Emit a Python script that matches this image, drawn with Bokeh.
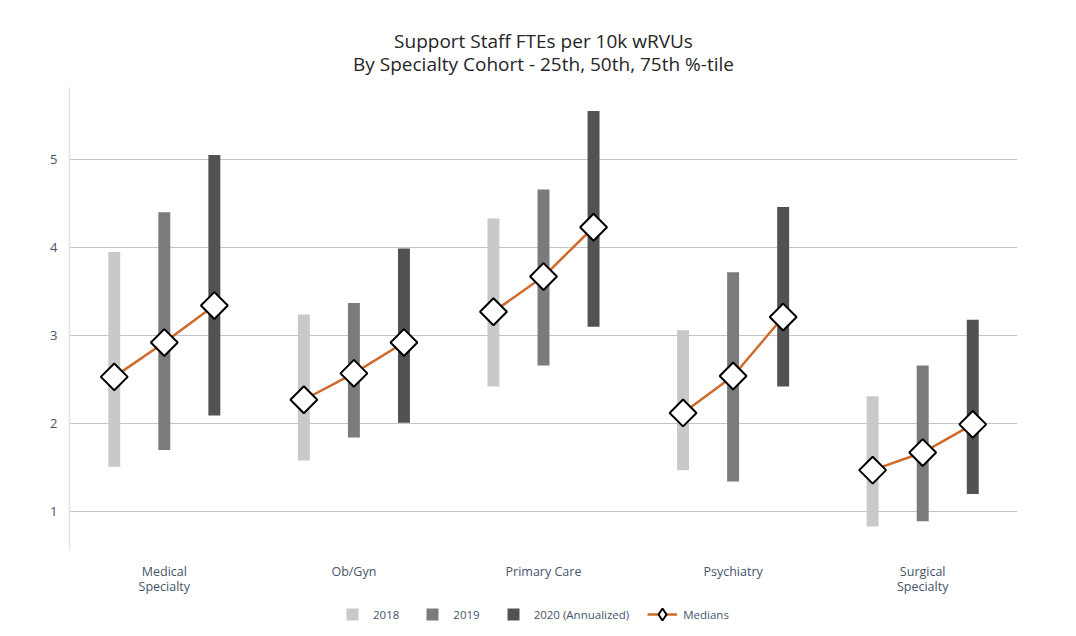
import numpy as np
from bokeh.plotting import figure
from bokeh.layouts import column
from bokeh.models import Range1d, FixedTicker, Legend, LegendItem, LinearAxis
from bokeh.embed import file_html
from bokeh.resources import INLINE

# ---- data ----
categories = ["Medical\nSpecialty", "Ob/Gyn", "Primary Care", "Psychiatry", "Surgical\nSpecialty"]
years = ["2018", "2019", "2020 (Annualized)"]

p25_2018 = [1.51, 1.58, 2.42, 1.47, 0.83]
p50_2018 = [2.53, 2.27, 3.27, 2.12, 1.47]
p75_2018 = [3.95, 3.24, 4.33, 3.06, 2.31]

p25_2019 = [1.70, 1.84, 2.66, 1.34, 0.89]
p50_2019 = [2.92, 2.57, 3.67, 2.54, 1.67]
p75_2019 = [4.40, 3.37, 4.66, 3.72, 2.66]

p25_2020 = [2.09, 2.01, 3.10, 2.42, 1.20]
p50_2020 = [3.34, 2.92, 4.23, 3.21, 1.99]
p75_2020 = [5.05, 3.99, 5.55, 4.46, 3.18]

y_ticks = [1, 2, 3, 4, 5]
title_lines = ["Support Staff FTEs per 10k wRVUs",
               "By Specialty Cohort - 25th, 50th, 75th %-tile"]

# ---- styling ----
FONT = "Open Sans"
LABEL_COLOR = "#44546A"
TITLE_COLOR = "#262626"
bar_colors = ["#C9C9C9", "#7B7B7B", "#525252"]
median_color = "#CF6A2B"
offsets = [-0.264, 0.0, 0.264]
bar_width = 0.063

p = figure(frame_width=948, frame_height=463, output_backend="svg", toolbar_location=None,
           title=None, x_range=Range1d(-0.5, 4.5), y_range=Range1d(0.557, 5.818),
           min_border_left=69, min_border_right=54, min_border_top=87, min_border_bottom=45)
p.outline_line_color = None
p.background_fill_color = "white"
p.border_fill_color = "white"

idx = list(range(len(categories)))
lows = [p25_2018, p25_2019, p25_2020]
meds = [p50_2018, p50_2019, p50_2020]
highs = [p75_2018, p75_2019, p75_2020]

for k in range(3):
    p.vbar(x=[i + offsets[k] for i in idx], width=bar_width, bottom=lows[k], top=highs[k],
           fill_color=bar_colors[k], line_color=None)

xs = [[i + o for o in offsets] for i in idx]
ys = [[meds[0][i], meds[1][i], meds[2][i]] for i in idx]
p.multi_line(xs, ys, line_color=median_color, line_width=2.5)

mx = [i + o for o in offsets for i in idx]
my = [v for m in meds for v in m]
p.scatter(mx, my, marker="square", angle=np.pi / 4, size=19,
          fill_color="white", line_color="black", line_width=2)

# axes: category names split on two stacked axes (one line each)
line1 = [c.split("\n")[0] for c in categories]
line2 = [c.split("\n")[1] if "\n" in c else "" for c in categories]

xa = p.xaxis[0]
xa.ticker = FixedTicker(ticks=idx)
xa.major_label_overrides = {i: line1[i] for i in idx}
xa.major_label_standoff = 12

xa2 = LinearAxis(ticker=FixedTicker(ticks=idx),
                 major_label_overrides={i: line2[i] for i in idx},
                 major_label_standoff=-5)
p.add_layout(xa2, "below")
for ax in (xa, xa2):
    ax.axis_line_color = None
    ax.major_tick_line_color = None
    ax.minor_tick_line_color = None
    ax.major_tick_out = 0
    ax.major_tick_in = 0
    ax.minor_tick_out = 0
    ax.major_label_text_font = FONT
    ax.major_label_text_font_size = "12.5px"
    ax.major_label_text_color = LABEL_COLOR

p.yaxis.ticker = FixedTicker(ticks=y_ticks)
p.yaxis.axis_line_color = "#DDE3F0"
p.yaxis.axis_line_width = 1.5
p.yaxis.major_tick_line_color = None
p.yaxis.minor_tick_line_color = None
p.yaxis.major_tick_out = 0
p.yaxis.major_label_standoff = 12
p.yaxis.major_label_text_font = FONT
p.yaxis.major_label_text_font_size = "13px"
p.yaxis.major_label_text_color = LABEL_COLOR

p.xgrid.grid_line_color = None
p.ygrid.grid_line_color = "#C4C4C4"
p.ygrid.grid_line_width = 1

# two-line centred chart title (carried by a tick-less top axis)
top = LinearAxis(ticker=FixedTicker(ticks=[]), axis_label="\n".join(title_lines),
                 axis_line_color=None, major_tick_line_color=None, minor_tick_line_color=None,
                 major_tick_out=0, minor_tick_out=0, axis_label_standoff=11,
                 axis_label_text_font=FONT, axis_label_text_font_size="19px",
                 axis_label_text_font_style="normal", axis_label_text_color=TITLE_COLOR,
                 axis_label_text_align="center", axis_label_text_line_height=0.88)
p.add_layout(top, "above")

# legend strip below the chart
nan = float("nan")
lf = figure(width=1071, height=32, output_backend="svg", toolbar_location=None,
            x_axis_location=None, y_axis_location=None, min_border=0,
            x_range=Range1d(0, 1), y_range=Range1d(0, 1))
lf.outline_line_color = None
lf.xgrid.visible = False
lf.ygrid.visible = False
proxies = [lf.scatter(x=[nan], y=[nan], marker="square", fill_color=c, line_color=None)
           for c in bar_colors]
med_line_proxy = lf.line(x=[nan], y=[nan], line_color=median_color, line_width=2.5)
med_pt_proxy = lf.scatter(x=[nan], y=[nan], marker="diamond", fill_color="white",
                          line_color="black", line_width=2)
items = [LegendItem(label=years[k], renderers=[proxies[k]]) for k in range(3)]
items.append(LegendItem(label="Medians", renderers=[med_line_proxy, med_pt_proxy]))
legend = Legend(items=items, orientation="horizontal", location=(268, 0),
                glyph_width=30, glyph_height=30, label_standoff=6, spacing=18,
                padding=0, margin=0, border_line_color=None, background_fill_alpha=0,
                label_text_font=FONT, label_text_font_size="11.5px", label_text_color=LABEL_COLOR)
lf.add_layout(legend, "center")

layout = column(p, lf)
open("out.html", "w").write(file_html(layout, INLINE))
